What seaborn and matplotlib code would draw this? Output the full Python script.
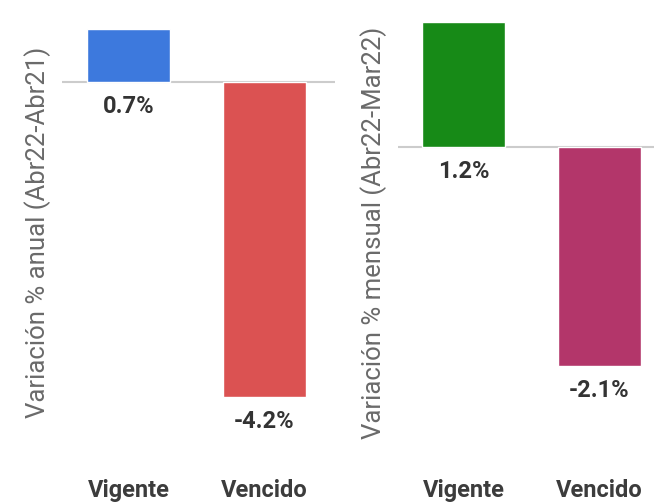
import matplotlib
matplotlib.use('Agg')
import matplotlib.pyplot as plt
import seaborn as sns
import pandas as pd

# data
categorias = ['Vigente', 'Vencido']
anual = [0.7, -4.2]
mensual = [1.2, -2.1]
colores_anual = ['#3d79dd', '#db5252']
colores_mensual = ['#178a17', '#b3366a']
ylabel_anual = 'Variación % anual (Abr22-Abr21)'
ylabel_mensual = 'Variación % mensual (Abr22-Mar22)'

sns.set_style('white')
plt.rcParams['font.family'] = ['Roboto', 'DejaVu Sans']

W, H = 654, 503
fig = plt.figure(figsize=(W / 100, H / 100), dpi=100)


def px_axes(x0, x1, y0, y1):
    # pixel box (top-left origin) -> figure coords
    return fig.add_axes([x0 / W, 1 - y1 / H, (x1 - x0) / W, (y1 - y0) / H])


ax1 = px_axes(62, 335, 15, 450)
ax2 = px_axes(398, 654, 15, 450)

paneles = [
    (ax1, anual, colores_anual, ylabel_anual, (-0.49, 1.52), (-4.91, 0.89)),
    (ax2, mensual, colores_mensual, ylabel_mensual, (-0.48, 1.40), (-2.91, 1.27)),
]

for ax, vals, cols, ylab, xl, yl in paneles:
    df = pd.DataFrame({'cat': categorias, 'val': vals})
    sns.barplot(data=df, x='cat', y='val', hue='cat', palette=cols,
                width=0.61, legend=False, saturation=1, ax=ax)
    ax.axhline(0, color='#cccccc', lw=1.5, zorder=0.5)
    ax.set_xlim(*xl)
    ax.set_ylim(*yl)
    for i, v in enumerate(vals):
        ax.annotate(f'{v:.1f}%', (i, min(0, v)), xytext=(0, -17.5),
                    textcoords='offset points', ha='center', va='center',
                    fontsize=17, fontweight='bold', color='#333333')
    ax.set_yticks([])
    ax.set_xlabel('')
    ax.set_ylabel(ylab, fontsize=18.5, color='#6a6a6a', labelpad=8)
    ax.tick_params(axis='x', length=0, pad=21, labelsize=17, labelcolor='#3c3c3c')
    for t in ax.get_xticklabels():
        t.set_fontweight('semibold')
    for s in ax.spines.values():
        s.set_visible(False)

fig.savefig('out.png', dpi=100)
